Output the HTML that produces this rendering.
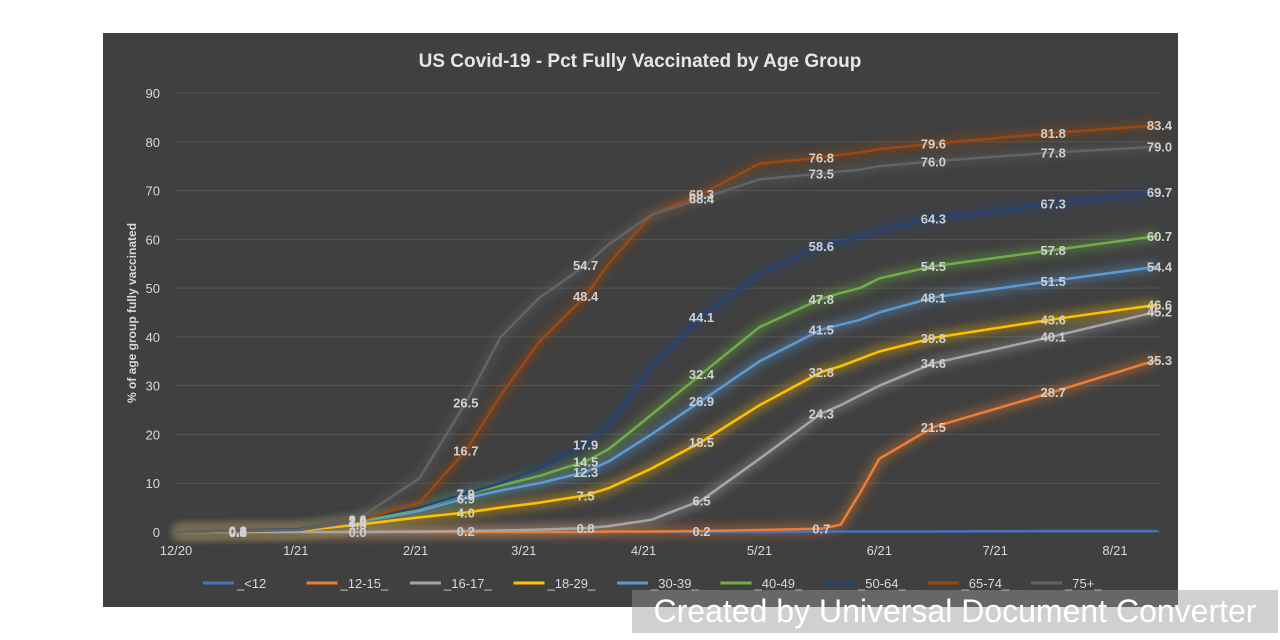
<!DOCTYPE html>
<html><head><meta charset="utf-8">
<style>
html,body{margin:0;padding:0;background:#fff;width:1280px;height:640px;overflow:hidden;font-family:"Liberation Sans",sans-serif;}
#chart{position:absolute;left:0;top:0;}
#wm{position:absolute;left:632px;top:590px;width:646px;height:43px;background:rgba(150,150,150,0.45);color:#fff;font-size:32px;line-height:43px;text-align:center;white-space:nowrap;overflow:hidden;}
</style></head><body>
<svg id="chart" width="1280" height="640">
<defs><filter id="glow" x="-10%" y="-10%" width="120%" height="120%"><feGaussianBlur stdDeviation="5"/></filter></defs>
<rect x="103" y="33" width="1075" height="574" fill="#404040"/>
<text x="640" y="67" text-anchor="middle" fill="#e6e6e6" font-size="19" font-weight="bold">US Covid-19 - Pct Fully Vaccinated by Age Group</text>
<text transform="translate(136,313) rotate(-90)" text-anchor="middle" fill="#d9d9d9" font-size="12" font-weight="bold">% of age group fully vaccinated</text>
<g id="grid"></g><g id="glows"></g><g id="lines"></g><g id="labels"></g><g id="legend"></g>
</svg>
<div id="wm">Created by Universal Document Converter</div>
<script>
const days = [0,32,47,63,75,84,94,106,112,123,136,151,167,172,177,182,196,227,254];
const sUnder12 = [0,0,0,0,0,0,0,0,0,0,0,0,0.1,0.1,0.1,0.1,0.1,0.2,0.2];
const s12_15 = [0,0,0,0,0,0,0,0,0.1,0.1,0.2,0.4,0.7,1.5,8,15,21.5,28.7,35.3];
const s16_17 = [0,0,0,0.1,0.2,0.3,0.5,0.8,1.2,2.5,6.5,15,24.3,26,28,30,34.6,40.1,45.2];
const s18_29 = [0,0.3,1.5,3,4,5,6,7.5,9,13,18.5,26,32.8,34,35.5,37,39.8,43.6,46.6];
const s30_39 = [0,0.4,2,4.3,6.9,8.5,10,12.3,14.5,20,26.9,35,41.5,42.5,43.5,45,48.1,51.5,54.4];
const s40_49 = [0,0.5,2.2,4.8,7.8,9.5,11.5,14.5,17,24,32.4,42,47.8,49,50,52,54.5,57.8,60.7];
const s50_64 = [0,0.6,2.6,5,7.9,10,13,17.9,22,34,44.1,53,58.6,59.5,60.5,62,64.3,67.3,69.7];
const s65_74 = [0,0.4,2.3,6,16.7,28,39,48.4,55,65,69.3,75.5,76.8,77.3,77.8,78.5,79.6,81.8,83.4];
const s75 = [0,0.5,2.6,11,26.5,40,48,54.7,59,65,68.4,72.3,73.5,73.9,74.3,75,76,77.8,79];
const seriesNames = ["_<12","_12-15_","_16-17_","_18-29_","_30-39_","_40-49_","_50-64_","_65-74_","_75+_"];
const seriesValues = [sUnder12,s12_15,s16_17,s18_29,s30_39,s40_49,s50_64,s65_74,s75];
const labelDays = [16,47,75,106,136,167,196,227,254];
const yTicks = [0,10,20,30,40,50,60,70,80,90];
const xTickLabels = ["12/20","1/21","2/21","3/21","4/21","5/21","6/21","7/21","8/21"];
const xTickDays = [0,31,62,90,121,151,182,212,243];
const colors = ["#4472c4","#ed7d31","#a5a5a5","#ffc000","#5b9bd5","#70ad47","#264478","#9e480e","#636363"];
const NS="http://www.w3.org/2000/svg";
const xS=d=>176+d*(1115-176)/243;
const yS=v=>532-v*(532-93)/90;
function mk(t,a,p){const e=document.createElementNS(NS,t);for(const k in a)e.setAttribute(k,a[k]);p.appendChild(e);return e;}
function interp(arr,d){if(d<=days[0])return arr[0];for(let i=1;i<days.length;i++){if(d<=days[i]){const f=(d-days[i-1])/(days[i]-days[i-1]);return arr[i-1]+f*(arr[i]-arr[i-1]);}}return arr[arr.length-1];}
const grid=document.getElementById('grid');
yTicks.forEach(v=>{
  const l=mk('line',{x1:176,x2:1160,y1:yS(v),y2:yS(v),stroke:v===0?'#6a6a6a':'#555','stroke-width':1},grid);
  
  
  const t=mk('text',{x:160,y:yS(v)+5,'text-anchor':'end',fill:'#d9d9d9','font-size':13},grid);t.textContent=v;
  
  
});
xTickLabels.forEach((s,i)=>{
  const t=mk('text',{x:xS(xTickDays[i]),y:555,'text-anchor':'middle',fill:'#d9d9d9','font-size':13},grid);t.textContent=s;
  
  
});
const gG=document.getElementById('glows'),gL=document.getElementById('lines'),gT=document.getElementById('labels'),gLeg=document.getElementById('legend');
seriesValues.forEach((arr,si)=>{
  const pts=days.map((d,i)=>xS(d).toFixed(1)+','+yS(arr[i]).toFixed(1)).join(' ');
  const g=mk('polyline',{points:pts,fill:'none',stroke:colors[si],'stroke-width':9,opacity:0.45,filter:'url(#glow)'},gG);
  
  
  const p=mk('polyline',{points:pts,fill:'none',stroke:colors[si],'stroke-width':2.5,'stroke-linejoin':'round'},gL);
  
  
  labelDays.forEach((d,li)=>{
    if(si===0 && li>0) return;
    if(si===1 && li>0 && li<4) return;
    const v=interp(arr,d);
    const t=mk('text',{x:xS(d)+(d===254?2:0),y:yS(v)+5,'text-anchor':'middle',fill:'#d0d0d0','font-size':13,'font-weight':'bold'},gT);
    t.textContent=v.toFixed(1);
    
    
  });
  const lx=203+si*103.5;
  const ll=mk('line',{x1:lx,x2:lx+31,y1:583,y2:583,stroke:colors[si],'stroke-width':3},gLeg);
  
  
  const lt=mk('text',{x:lx+34,y:588,fill:'#d9d9d9','font-size':13},gLeg);lt.textContent=seriesNames[si];
  
  
});
</script>
</body></html>
